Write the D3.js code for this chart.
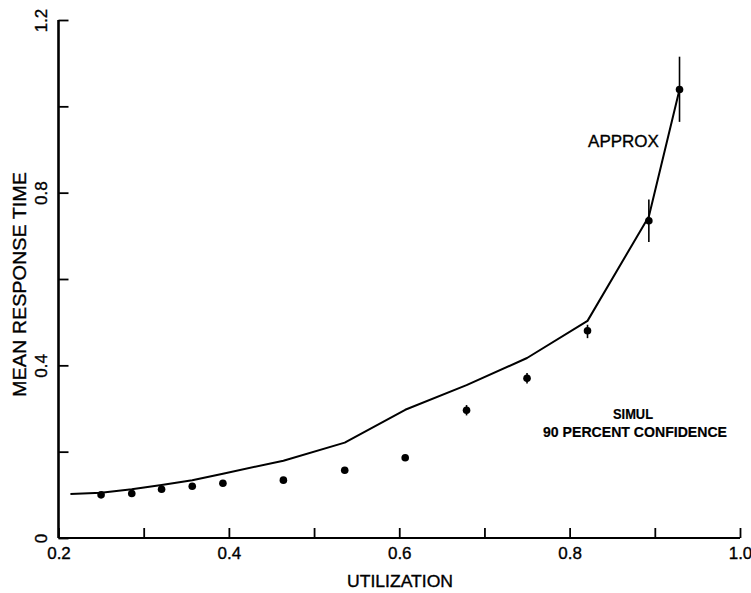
<!DOCTYPE html>
<html>
<head>
<meta charset="utf-8">
<script src="https://cdn.jsdelivr.net/npm/d3@7"></script>
<style>
  html, body { margin: 0; padding: 0; background: #fff; }
  svg { display: block; }
  text { font-family: "Liberation Sans", Arial, sans-serif; fill: #000; stroke: #000; stroke-width: 0.35px; }
</style>
</head>
<body>
<svg id="chart" width="751" height="593"></svg>
<script>
// ---- data ----
const simX      = [0.250, 0.286, 0.321, 0.357, 0.393, 0.464, 0.536, 0.607, 0.679, 0.750, 0.821, 0.893, 0.929];
const simY      = [0.100, 0.103, 0.113, 0.120, 0.127, 0.134, 0.157, 0.186, 0.296, 0.370, 0.480, 0.735, 1.039];
const simErrLo  = [0, 0, 0, 0, 0, 0, 0, 0, 0.284, 0.358, 0.463, 0.686, 0.964];
const simErrHi  = [0, 0, 0, 0, 0, 0, 0, 0, 0.308, 0.382, 0.494, 0.784, 1.115];
const approxX   = [0.214, 0.250, 0.286, 0.321, 0.357, 0.393, 0.464, 0.536, 0.607, 0.679, 0.750, 0.821, 0.893, 0.929];
const approxY   = [0.102, 0.105, 0.113, 0.123, 0.134, 0.149, 0.179, 0.221, 0.297, 0.354, 0.417, 0.503, 0.745, 1.039];
const xTicks      = [0.2, 0.3, 0.4, 0.5, 0.6, 0.7, 0.8, 0.9, 1.0];
const xTickLabels = ["0.2", "", "0.4", "", "0.6", "", "0.8", "", "1.0"];
const yTicks      = [0, 0.2, 0.4, 0.6, 0.8, 1.0, 1.2];
const yTickLabels = ["0", "", "0.4", "", "0.8", "", "1.2"];

const svg = d3.select("#chart");
const x = d3.scaleLinear().domain([0.2, 1.0]).range([58.5, 740]);
const y = d3.scaleLinear().domain([0, 1.2]).range([538, 20]);

// x axis
const xAxis = d3.axisBottom(x).tickValues(xTicks).tickSize(-10)
  .tickFormat((d, i) => xTickLabels[i]).tickPadding(16);
const gx = svg.append("g").attr("transform", `translate(0,${y(0)})`).call(xAxis);
gx.select(".domain").attr("d", `M${x(0.2)},0H${x(1.0)}`).attr("stroke-width", 2.2);
gx.selectAll(".tick line").attr("stroke-width", 1.8);
gx.selectAll(".tick text").attr("font-size", 17).attr("y", 9).attr("dy", "0.71em")
  .attr("font-family", "Liberation Sans, Arial, sans-serif");

// y axis
const yAxis = d3.axisLeft(y).tickValues(yTicks).tickSize(-10).tickFormat(() => "");
const gy = svg.append("g").attr("transform", `translate(${x(0.2)},0)`).call(yAxis);
gy.select(".domain").attr("d", `M0,${y(0)}V${y(1.2)}`).attr("stroke-width", 2.6);
gy.selectAll(".tick line").attr("stroke-width", 1.8);
gy.selectAll(".tick").each(function(d, i) {
  const lbl = yTickLabels[i];
  if (!lbl) return;
  d3.select(this).append("text")
    .attr("transform", "translate(-12,0) rotate(-90)")
    .attr("text-anchor", "middle")
    .attr("dy", "0")
    .attr("font-size", 17)
    .attr("font-family", "Liberation Sans, Arial, sans-serif")
    .text(lbl);
});

// approx line
const line = d3.line().x(d => x(d[0])).y(d => y(d[1]));
svg.append("path")
  .datum(approxX.map((v, i) => [v, approxY[i]]))
  .attr("d", line)
  .attr("fill", "none").attr("stroke", "#000").attr("stroke-width", 2)
  .attr("stroke-linejoin", "round");

// error bars
simX.forEach((v, i) => {
  if (simErrHi[i] > simErrLo[i]) {
    svg.append("line")
      .attr("x1", x(v)).attr("x2", x(v))
      .attr("y1", y(simErrLo[i])).attr("y2", y(simErrHi[i]))
      .attr("stroke", "#000").attr("stroke-width", 1.6);
  }
});

// points
svg.selectAll("circle.sim").data(simX).enter().append("circle")
  .attr("class", "sim")
  .attr("cx", d => x(d)).attr("cy", (d, i) => y(simY[i]))
  .attr("r", 3.8).attr("fill", "#000");

// labels
svg.append("text").attr("x", 623.5).attr("y", 146.5).attr("text-anchor", "middle")
  .attr("font-size", 17).text("APPROX");
svg.append("text").attr("x", 633).attr("y", 419).attr("text-anchor", "middle")
  .attr("font-size", 15).attr("font-weight", "bold").style("stroke-width", "0.2px")
  .attr("textLength", 40).attr("lengthAdjust", "spacingAndGlyphs").text("SIMUL");
svg.append("text").attr("x", 635).attr("y", 437).attr("text-anchor", "middle")
  .attr("font-size", 15).attr("font-weight", "bold").style("stroke-width", "0.2px")
  .attr("textLength", 184).attr("lengthAdjust", "spacingAndGlyphs").text("90 PERCENT CONFIDENCE");

svg.append("text").attr("x", 400).attr("y", 587).attr("text-anchor", "middle")
  .attr("font-size", 17).attr("textLength", 106).attr("lengthAdjust", "spacingAndGlyphs")
  .text("UTILIZATION");
svg.append("text").attr("transform", "translate(26,284.5) rotate(-90)").attr("text-anchor", "middle")
  .attr("font-size", 19).attr("textLength", 225).attr("lengthAdjust", "spacingAndGlyphs")
  .text("MEAN RESPONSE TIME");
</script>
</body>
</html>
